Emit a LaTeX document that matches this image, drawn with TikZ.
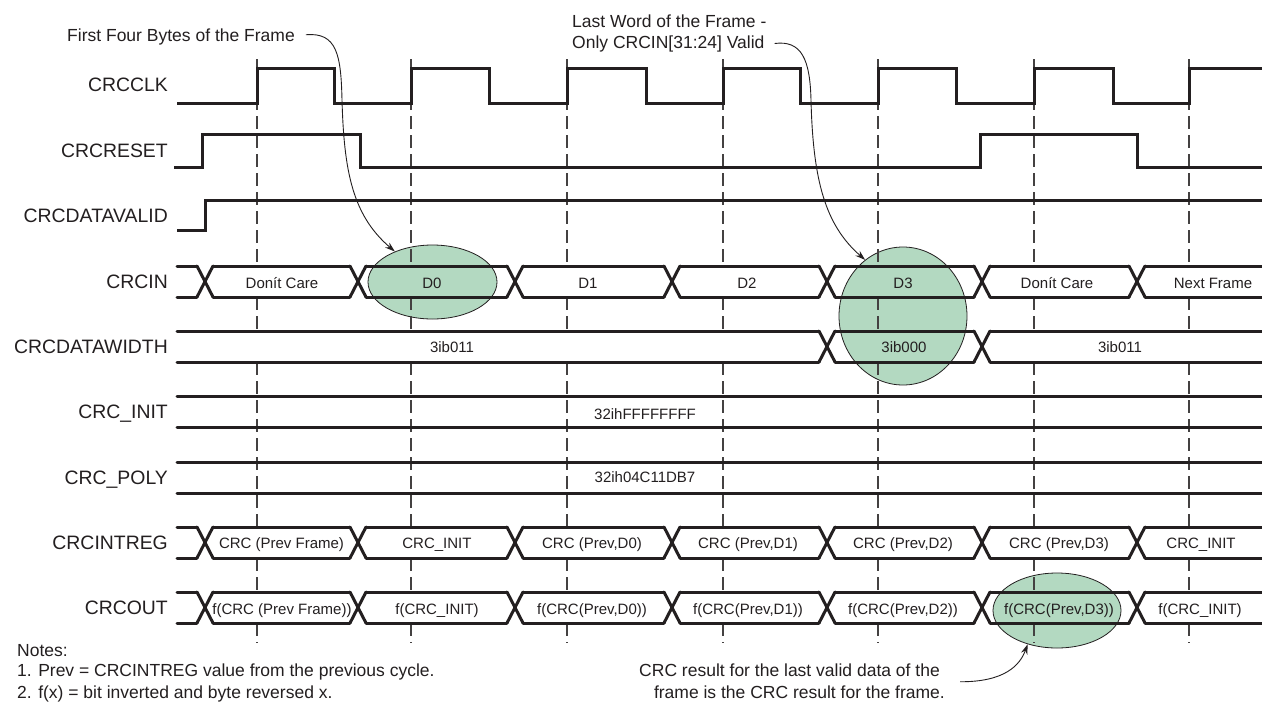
\documentclass[tikz,border=0pt]{standalone}
\usepackage{fontspec}
\setmainfont{Liberation Sans}
\usetikzlibrary{shapes.geometric,arrows.meta}
\definecolor{sigc}{RGB}{35,31,32}
\definecolor{hlc}{RGB}{179,217,193}
\newcommand\BusLines[4]{\draw[bus] (#3,#1) -- (#4,#1) (#3,#2) -- (#4,#2);}
\newcommand\BusCross[3]{\draw[bus] (#3-8,#1) -- (#3+8,#2) (#3-8,#2) -- (#3+8,#1);}
\begin{document}
\begin{tikzpicture}[x=1pt,y=-1pt,
 sig/.style={line width=3pt,draw=sigc,line join=miter},
 bus/.style={line width=3pt,draw=sigc,line cap=round},
 gridline/.style={line width=1.3pt,draw=sigc!85,dash pattern=on 13pt off 6pt},
 hl/.style={ellipse,draw=sigc,line width=0.8pt,fill=hlc,inner sep=0pt},
 lab/.style={anchor=base east,inner sep=0pt,font=\fontsize{19.4}{22}\selectfont,text=sigc},
 bt/.style={anchor=base,inner sep=0pt,font=\fontsize{15}{18}\selectfont,text=sigc},
 ann/.style={inner sep=0pt,font=\fontsize{17.5}{21}\selectfont,text=sigc},
 arr/.style={line width=0.9pt,draw=sigc,-{Stealth[length=10pt,width=6.5pt]}}]
\useasboundingbox (0,0) rectangle (1262,702);
\fill[white] (0,0) rectangle (1262,702);

% highlight ellipses
\node[hl,minimum width=129pt,minimum height=74pt] (e0) at (432.5,282) {};
\node[hl,minimum width=128pt,minimum height=138pt] (e3) at (903,316) {};
\node[hl,minimum width=128pt,minimum height=75pt] (e5) at (1057,610.5) {};

% dashed cycle lines
\foreach \x in {257,411,567,723,878,1034,1189}
  \foreach \a/\b in {59/266,297/331,362/527,558/592,623/643}
    \draw[gridline] (\x,\a) -- (\x,\b);

% CRCCLK
\draw[sig] (177,103) -- (257,103) -- (257,68) -- (334,68) -- (334,103) -- (411,103) -- (411,68) -- (489,68) -- (489,103) -- (567,103) -- (567,68) -- (646,68) -- (646,103) -- (723,103) -- (723,68) -- (800,68) -- (800,103) -- (878,103) -- (878,68) -- (956,68) -- (956,103) -- (1034,103) -- (1034,68) -- (1113,68) -- (1113,103) -- (1189,103) -- (1189,68) -- (1262,68);
% CRCRESET
\draw[sig] (174,167) -- (202,167) -- (202,134) -- (360,134) -- (360,167) -- (980,167) -- (980,134) -- (1137,134) -- (1137,167) -- (1262,167);
% CRCDATAVALID
\draw[sig] (177,230) -- (205,230) -- (205,200) -- (1262,200);

% CRCIN
\foreach \a/\b in {177/197,213/350,366/507,523/664,680/819,835/974,990/1129,1145/1262} {\BusLines{266}{297}{\a}{\b}}
\foreach \c in {205,358,515,672,827,982,1137} {\BusCross{266}{297}{\c}}
% CRCDATAWIDTH
\foreach \a/\b in {177/819,835/974,990/1262} {\BusLines{331}{362}{\a}{\b}}
\foreach \c in {827,982} {\BusCross{331}{362}{\c}}
% CRC_INIT, CRC_POLY
\BusLines{396}{427}{177}{1262}
\BusLines{462}{493}{177}{1262}
% CRCINTREG
\foreach \a/\b in {177/197,213/350,366/507,523/664,680/819,835/974,990/1129,1145/1262} {\BusLines{527}{558}{\a}{\b}}
\foreach \c in {205,358,515,672,827,982,1137} {\BusCross{527}{558}{\c}}
% CRCOUT
\foreach \a/\b in {177/197,213/350,366/507,523/664,680/819,835/974,990/1129,1145/1262} {\BusLines{592}{623}{\a}{\b}}
\foreach \c in {205,358,515,672,827,982,1137} {\BusCross{592}{623}{\c}}

% signal names
\node[lab] (lclk) at (168,91.5) {CRCCLK};
\node[lab] (lrst) at (168,157) {CRCRESET};
\node[lab] (lval) at (168,222.5) {CRCDATAVALID};
\node[lab] (lin) at (168,288) {CRCIN};
\node[lab] (lwid) at (168,353) {CRCDATAWIDTH};
\node[lab] (linit) at (168,418.5) {CRC\_INIT};
\node[lab] (lpoly) at (168,484) {CRC\_POLY};
\node[lab] (lreg) at (168,549) {CRCINTREG};
\node[lab] (lout) at (168,614) {CRCOUT};

% CRCIN values
\node[bt] (in1) at (282,288) {Donít Care};
\node[bt] (in2) at (432,288) {D0};
\node[bt] (in3) at (588,288) {D1};
\node[bt] (in4) at (747,288) {D2};
\node[bt] (in5) at (903,288) {D3};
\node[bt] (in6) at (1057,288) {Donít Care};
\node[bt] (in7) at (1213,288) {Next Frame};
% CRCDATAWIDTH values
\node[bt] (w1) at (452,352.5) {3ib011};
\node[bt] (w2) at (904,352.5) {3ib000};
\node[bt] (w3) at (1120,352.5) {3ib011};
% constants
\node[bt] (vinit) at (645,419) {32ihFFFFFFFF};
\node[bt] (vpoly) at (645,482.5) {32ih04C11DB7};
% CRCINTREG values
\node[bt] (r1) at (281.5,548.5) {CRC (Prev Frame)};
\node[bt] (r2) at (437,548.5) {CRC\_INIT};
\node[bt] (r3) at (592,548.5) {CRC (Prev,D0)};
\node[bt] (r4) at (748,548.5) {CRC (Prev,D1)};
\node[bt] (r5) at (903,548.5) {CRC (Prev,D2)};
\node[bt] (r6) at (1059,548.5) {CRC (Prev,D3)};
\node[bt] (r7) at (1201,548.5) {CRC\_INIT};
% CRCOUT values
\node[bt] (o1) at (282,614.5) {f(CRC (Prev Frame))};
\node[bt] (o2) at (437,614.5) {f(CRC\_INIT)};
\node[bt] (o3) at (592,614.5) {f(CRC(Prev,D0))};
\node[bt] (o4) at (748,614.5) {f(CRC(Prev,D1))};
\node[bt] (o5) at (903,614.5) {f(CRC(Prev,D2))};
\node[bt] (o6) at (1059,614.5) {f(CRC(Prev,D3))};
\node[bt] (o7) at (1200,614.5) {f(CRC\_INIT)};

% annotations
\node[ann,anchor=base west] (t1) at (67,41.3) {First Four Bytes of the Frame};
\node[ann,anchor=base west] (t2a) at (572,27) {Last Word of the Frame -};
\node[ann,anchor=base west] (t2b) at (572,48) {Only CRCIN[31:24] Valid};
\node[ann,anchor=base east] (t3a) at (940,676) {CRC result for the last valid data of the};
\node[ann,anchor=base east] (t3b) at (945,698) {frame is the CRC result for the frame.};
\node[ann,anchor=base west] (n0) at (17,656.3) {Notes:};
\node[ann,anchor=base west] (n1) at (17,676.5) {1. Prev = CRCINTREG value from the previous cycle.};
\node[ann,anchor=base west] (n2) at (17,698.3) {2. f(x) = bit inverted and byte reversed x.};

\draw[arr] ([shift={(11,-2)}]t1.east) .. controls (337,32) and (341,55) .. (342,100) .. controls (344,170) and (352,215) .. (e0.141);
\draw[arr] ([shift={(10,0)}]t2b.east) .. controls (802,40) and (810,60) .. (811,100) .. controls (813,180) and (825,225) .. (e3.124);
\draw[arr] ([shift={(15,-10)}]t3b.east) .. controls (1005,682) and (1020,665) .. (e5.229);
\end{tikzpicture}
\end{document}
